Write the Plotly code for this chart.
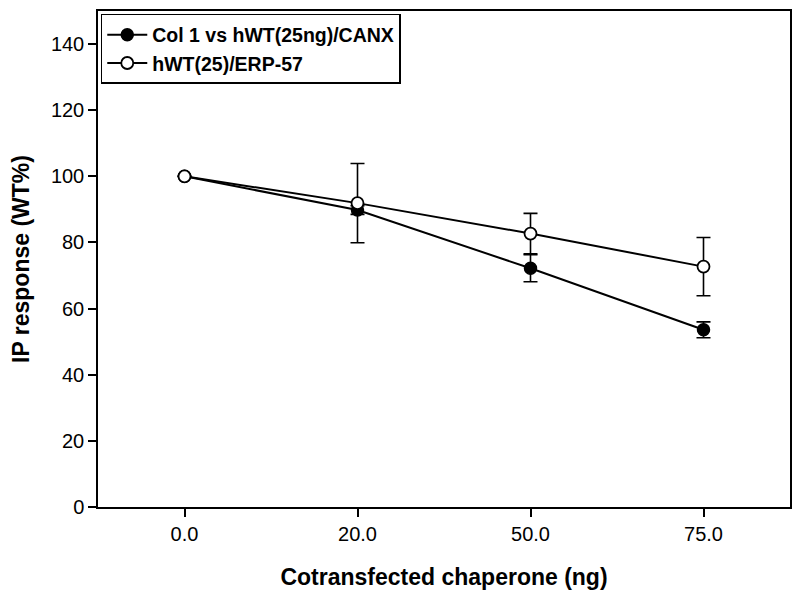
import plotly.graph_objects as go

categories = ["0.0", "20.0", "50.0", "75.0"]
canx_name = "Col 1 vs hWT(25ng)/CANX"
canx_vals = [100, 89.8, 72.2, 53.6]
canx_err = [0, 1.3, 4.1, 2.4]
erp_name = "hWT(25)/ERP-57"
erp_vals = [100, 91.9, 82.7, 72.7]
erp_err = [0, 12.0, 6.1, 8.8]
y_ticks = [0, 20, 40, 60, 80, 100, 120, 140]

FONT = "Arial, Liberation Sans, sans-serif"

fig = go.Figure()
fig.add_trace(go.Scatter(
    x=categories, y=canx_vals, name=canx_name, mode="lines+markers",
    line=dict(color="black", width=2),
    marker=dict(symbol="circle", size=12, color="black", line=dict(color="black", width=1.5)),
    error_y=dict(type="data", array=canx_err, visible=True, color="black", thickness=1.6, width=7),
))
fig.add_trace(go.Scatter(
    x=categories, y=erp_vals, name=erp_name, mode="lines+markers",
    line=dict(color="black", width=2),
    marker=dict(symbol="circle", size=12, color="white", line=dict(color="black", width=1.8)),
    error_y=dict(type="data", array=erp_err, visible=True, color="black", thickness=1.6, width=7),
))

fig.update_layout(
    width=792, height=592,
    margin=dict(l=90, r=10, t=1, b=93),
    paper_bgcolor="white", plot_bgcolor="white",
    font=dict(family=FONT, color="black"),
    showlegend=True,
    legend=dict(
        x=0.004, y=0.994, xanchor="left", yanchor="top",
        bgcolor="white", bordercolor="black", borderwidth=1.5,
        font=dict(family=FONT, size=19.5, color="black", weight="bold"),
        itemwidth=40, entrywidth=352,
    ),
    xaxis=dict(
        type="category", range=[-0.5, 3.5],
        showline=True, linecolor="black", linewidth=1.5, mirror=True,
        ticks="outside", ticklen=8, tickwidth=1.5, tickcolor="black",
        tickfont=dict(size=20, family=FONT),
        showgrid=False, zeroline=False,
        title=dict(text="Cotransfected chaperone (ng)", font=dict(size=23, family=FONT, weight="bold"), standoff=25),
    ),
    yaxis=dict(
        range=[0, 150], tickvals=y_ticks,
        showline=True, linecolor="black", linewidth=1.5, mirror=True,
        ticks="outside", ticklen=8, tickwidth=1.5, tickcolor="black",
        tickfont=dict(size=20, family=FONT),
        showgrid=False, zeroline=False,
        title=dict(text="IP response (WT%)", font=dict(size=23, family=FONT, weight="bold"), standoff=20),
    ),
)

fig.write_html("out.html")
